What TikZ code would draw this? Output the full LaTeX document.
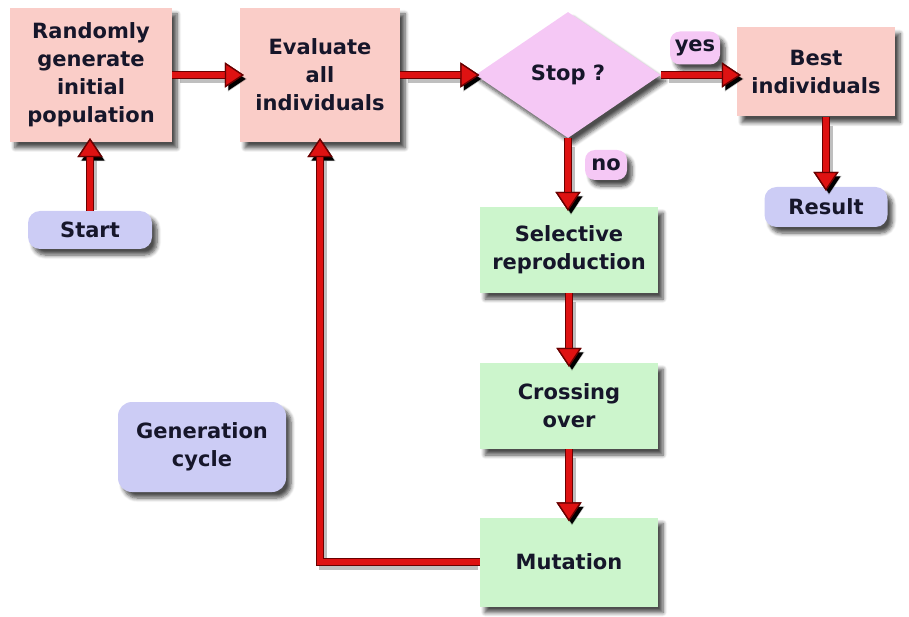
\documentclass[tikz,border=0pt]{standalone}
\usepackage{fontspec}
\setmainfont{DejaVu Sans}
\usetikzlibrary{shapes.geometric,arrows.meta,shadows.blur,calc}
\definecolor{boxpink}{RGB}{250,205,200}
\definecolor{diapink}{RGB}{245,200,245}
\definecolor{boxgreen}{RGB}{204,245,204}
\definecolor{boxblue}{RGB}{204,204,245}
\definecolor{arrred}{RGB}{222,18,18}
\definecolor{arrdark}{RGB}{105,0,0}
\definecolor{txt}{RGB}{22,22,42}
\tikzset{
  every node/.style={font=\fontsize{21}{28}\selectfont\bfseries, text=txt, align=center, inner sep=0pt},
  shadowed/.style={blur shadow={shadow xshift=5pt, shadow yshift=-6pt, shadow blur radius=4pt, shadow blur steps=6, shadow opacity=70}},
  pinkbox/.style={shadowed, fill=boxpink, rectangle},
  greenbox/.style={shadowed, fill=boxgreen, rectangle, minimum width=178pt},
  bluebox/.style={shadowed, fill=boxblue, rectangle},
  lbl/.style={shadowed, fill=diapink, rectangle, rounded corners=10pt},
  tipshape/.style={-{Triangle[width=25pt,length=19pt,line width=1.3pt,color=#1,fill=arrred]}},
  arr/.style={line width=5.5pt, draw=arrred, line join=miter, shorten >=-4pt,
    tipshape=arrdark,
    preaction={draw=black, draw opacity=0.25, line width=8pt, line join=miter, shorten <=5pt,
      transform canvas={shift={(3pt,-4pt)}},
      -{Triangle[width=25pt,length=19pt,line width=1.3pt,color=black,fill=black]}},
    preaction={draw=arrdark, line width=8.5pt, line join=miter, tipshape=arrdark}}
}
\begin{document}
\begin{tikzpicture}[x=1pt,y=-1pt]
\useasboundingbox (0,0) rectangle (909,617);

\node[pinkbox, minimum width=162pt, minimum height=134pt] (rand) at (91,75) {Randomly\\generate\\initial\\population};
\node[pinkbox, minimum width=160pt, minimum height=134pt] (eval) at (320,75) {Evaluate\\all\\individuals};
\node[diamond, shadowed, fill=diapink, minimum width=185pt, minimum height=126pt] (stop) at (568,75) {Stop ?};
\node[pinkbox, minimum width=158pt, minimum height=89pt] (best) at (816,72) {Best\\individuals};
\node[bluebox, rounded corners=12pt, minimum width=123pt, minimum height=40pt] (result) at (826,207) {Result};
\node[bluebox, rounded corners=12pt, minimum width=124pt, minimum height=38pt] (start) at (90,230) {Start};
\node[lbl, minimum width=50pt, minimum height=33pt] (yes) at (695,48) {yes};
\node[lbl, minimum width=42pt, minimum height=30pt] (no) at (606,165) {no};
\node[greenbox, minimum height=86pt] (sel) at (569,250) {Selective\\reproduction};
\node[greenbox, minimum height=86pt] (cross) at (569,406) {Crossing\\over};
\node[greenbox, minimum height=89pt] (mut) at (569,562) {Mutation};
\node[bluebox, rounded corners=14pt, minimum width=168pt, minimum height=90pt] (gen) at (202,447) {Generation\\cycle};

\draw[arr] (rand.east) -- (eval.west);
\draw[arr] (eval.east) -- (stop.west);
\draw[arr] (stop.east) -- (stop.east -| best.west);
\draw[arr] (stop.south) -- (stop.south |- sel.north);
\draw[arr] (result.north |- best.south) -- (result.north);
\draw[arr] (start.north) -- (start.north |- rand.south);
\draw[arr] (sel.south) -- (cross.north);
\draw[arr] (cross.south) -- (mut.north);
\draw[arr] (mut.west) -| (eval.south);
\end{tikzpicture}
\end{document}
